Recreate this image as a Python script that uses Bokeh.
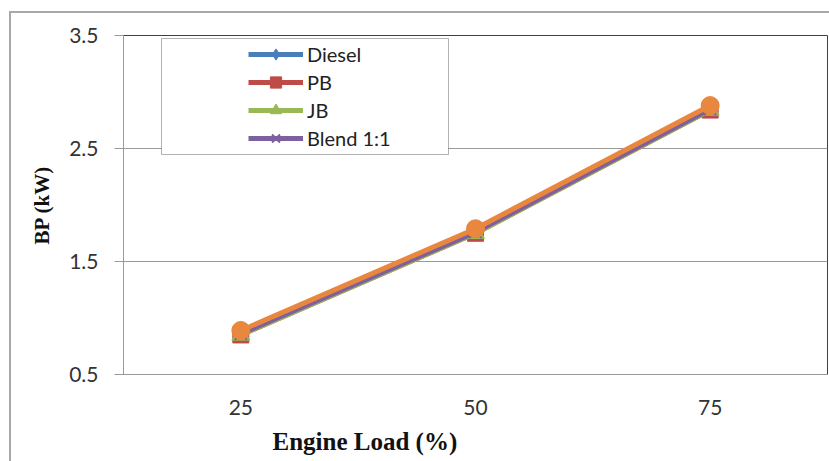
from bokeh.plotting import figure
from bokeh.models import (FactorRange, Range1d, FixedTicker, Legend, LegendItem,
                          BoxAnnotation, Title)
from bokeh.embed import file_html
from bokeh.resources import INLINE

loads = ["25", "50", "75"]
diesel = [0.87, 1.77, 2.86]
pb = [0.85, 1.75, 2.84]
jb = [0.85, 1.75, 2.84]
blend = [0.86, 1.76, 2.85]
other = [0.89, 1.79, 2.88]
y_ticks = [0.5, 1.5, 2.5, 3.5]

# outer chart border drawn by the host element's css border (top/left), 2px
ML, MT = 9, 11
p = figure(frame_width=704, frame_height=339, x_range=FactorRange(*loads),
           y_range=Range1d(0.5, 3.5),
           output_backend="svg", toolbar_location=None,
           min_border_left=123 - ML - 2, min_border_right=2, min_border_top=35 - MT - 2,
           min_border_bottom=60)
p.margin = (MT, 0, 0, ML)
p.styles = {"border-top": "2px solid #a8a8a8", "border-left": "2px solid #a8a8a8"}
p.background_fill_color = "white"
p.border_fill_color = "white"
p.outline_line_color = "#404040"
p.outline_line_width = 1

p.xgrid.visible = False
p.ygrid.grid_line_color = "#9a9a9a"
p.ygrid.grid_line_width = 1
p.yaxis.ticker = FixedTicker(ticks=y_ticks)
p.yaxis.axis_line_color = "#9a9a9a"
p.yaxis.major_tick_line_color = "#9a9a9a"
p.yaxis.major_tick_out = 9
p.yaxis.major_tick_in = 0
p.yaxis.minor_tick_line_color = None
p.yaxis.major_label_standoff = 16
p.xaxis.axis_line_color = "#9a9a9a"
p.xaxis.major_tick_line_color = None
p.xaxis.major_tick_out = 0
p.xaxis.major_label_standoff = 25
for ax in (p.xaxis, p.yaxis):
    ax.major_label_text_font = "Lato"
    ax.major_label_text_font_size = "21px"
    ax.major_label_text_color = "#333333"

p.yaxis.axis_label = "BP (kW)"
p.yaxis.axis_label_text_font = "Liberation Serif"
p.yaxis.axis_label_text_font_style = "bold"
p.yaxis.axis_label_text_font_size = "21px"
p.yaxis.axis_label_text_color = "#111111"
p.yaxis.axis_label_standoff = 12

series = [
    ("Diesel", diesel, "#4A7EBB", "diamond", 19),
    ("PB", pb, "#BE4B48", "square", 16),
    ("JB", jb, "#98B954", "triangle", 18),
    ("Blend 1:1", blend, "#7D60A0", "x", 17),
    (None, other, "#E8873D", "circle", 18),
]
items = []
for name, vals, color, marker, size in series:
    l = p.line(loads, vals, line_color=color, line_width=5)
    s = p.scatter(loads, vals, marker=marker, size=size, fill_color=color,
                  line_color=color, line_width=2 if marker == "x" else 1)
    if name:
        items.append(LegendItem(label=name, renderers=[l, s]))

box = BoxAnnotation(left=(161 - 123) / 234.67, right=(448 - 123) / 234.67,
                    top=3.5 - (38 - 35) / 113.0, bottom=3.5 - (154 - 35) / 113.0,
                    fill_color="white", fill_alpha=1.0, line_color="black", line_width=1)
p.add_layout(box)

legend = Legend(items=items, location=(125, 222), padding=0, margin=0,
                border_line_color=None, background_fill_alpha=0,
                glyph_width=55, glyph_height=28, spacing=0, label_standoff=4,
                label_text_font="Lato", label_text_font_size="20px",
                label_text_color="#222222")
p.add_layout(legend, "center")

xt = Title(text="Engine Load (%)", align="left", offset=149,
           text_font="Liberation Serif", text_font_style="bold",
           text_font_size="25px", text_color="#111111", standoff=16)
p.add_layout(xt, "below")

open("out.html", "w").write(file_html(p, INLINE))
